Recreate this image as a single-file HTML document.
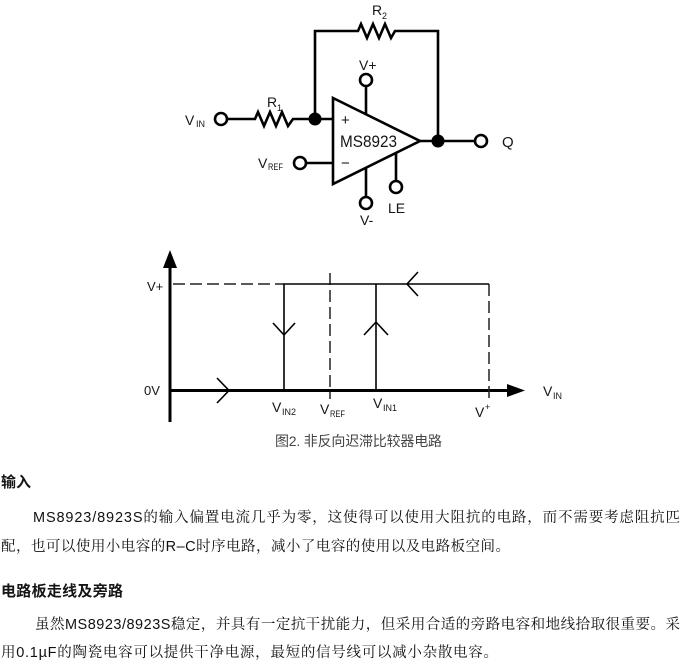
<!DOCTYPE html>
<html>
<head>
<meta charset="utf-8">
<style>
  html,body{margin:0;padding:0;background:#fff;}
  body{width:684px;height:668px;overflow:hidden;}
  svg{display:block;}
  text{font-family:"Liberation Sans","Noto Sans CJK SC",sans-serif;fill:#151515;}
  .cjk{font-family:"Liberation Sans","Noto Sans CJK SC",sans-serif;}
  .body{font-family:"Liberation Sans","Noto Serif CJK SC",serif;fill:#111;}
</style>
</head>
<body>
<svg width="684" height="668" viewBox="0 0 684 668" xmlns="http://www.w3.org/2000/svg">
  <!-- ===== Circuit ===== -->
  <g fill="none" stroke="#000" stroke-width="2.6" stroke-linejoin="miter" stroke-linecap="butt">
    <polyline points="315,119 315,31 358,31 361,24 367,38 373,24 379,38 385,24 391,38 395,31 438,31 438,141"/>
    <polyline points="227,119 255,119 258,112 264,126 270,112 276,126 282,112 288,126 293,119 333,119"/>
    <line x1="306" y1="163" x2="333" y2="163"/>
    <line x1="419" y1="141" x2="475" y2="141"/>
    <line x1="366" y1="86" x2="366" y2="115"/>
    <line x1="366" y1="167" x2="366" y2="197"/>
    <line x1="396" y1="152" x2="396" y2="181"/>
  </g>
  <polygon points="333,98 420,141 333,184" fill="#fff" stroke="#000" stroke-width="2.6" stroke-linejoin="miter"/>
  <g fill="#fff" stroke="#000" stroke-width="2.6">
    <circle cx="221" cy="119" r="6"/>
    <circle cx="300" cy="163" r="6"/>
    <circle cx="366" cy="80" r="6"/>
    <circle cx="366" cy="203" r="6"/>
    <circle cx="396" cy="187" r="6"/>
    <circle cx="481" cy="141" r="6"/>
  </g>
  <circle cx="315" cy="119" r="6.5" fill="#000"/>
  <circle cx="438" cy="141" r="6.5" fill="#000"/>

  <text x="341" y="125" font-size="15">+</text>
  <text x="341" y="168" font-size="15">−</text>
  <text x="340" y="147" font-size="17" textLength="57" lengthAdjust="spacingAndGlyphs">MS8923</text>
  <text x="359" y="70" font-size="14">V+</text>
  <text x="360" y="225" font-size="14">V-</text>
  <text x="388" y="213" font-size="14">LE</text>
  <text x="502" y="147" font-size="15">Q</text>
  <text x="185" y="125" font-size="14">V</text>
  <text x="196" y="127" font-size="9">IN</text>
  <text x="258" y="168" font-size="14">V</text>
  <text x="268" y="170" font-size="9" textLength="15" lengthAdjust="spacingAndGlyphs">REF</text>
  <text x="267" y="107" font-size="14">R</text>
  <text x="277" y="111" font-size="9">1</text>
  <text x="372" y="15" font-size="14">R</text>
  <text x="382" y="19" font-size="9">2</text>

  <!-- ===== Hysteresis chart ===== -->
  <g stroke="#000" stroke-width="3" fill="none">
    <line x1="170" y1="266" x2="170" y2="422"/>
    <line x1="168.5" y1="390.5" x2="509" y2="390.5"/>
  </g>
  <polygon points="170,250 163,268 177,268" fill="#000"/>
  <polygon points="525,390.5 507,384 507,397" fill="#000"/>

  <g stroke="#222" stroke-width="1.5" fill="none" stroke-dasharray="12 5">
    <line x1="173" y1="284" x2="284" y2="284"/>
    <line x1="330" y1="273" x2="330" y2="399"/>
    <line x1="489" y1="284" x2="489" y2="401"/>
  </g>
  <g stroke="#000" stroke-width="1.6" fill="none">
    <polyline points="284,390 284,284 489,284"/>
    <line x1="376" y1="284" x2="376" y2="390"/>
    <polyline points="273,323 284,335 295,323"/>
    <polyline points="364,335 376,322 388,335"/>
    <polyline points="418,272 407,284 418,296"/>
    <polyline points="217,378 229,390.5 217,403"/>
  </g>

  <text x="147" y="291" font-size="13">V+</text>
  <text x="144" y="395" font-size="13">0V</text>
  <text x="272" y="412" font-size="14">V</text>
  <text x="282" y="415" font-size="9">IN2</text>
  <text x="320" y="414" font-size="14">V</text>
  <text x="330" y="417" font-size="9" textLength="15" lengthAdjust="spacingAndGlyphs">REF</text>
  <text x="373" y="408" font-size="14">V</text>
  <text x="383" y="411" font-size="9">IN1</text>
  <text x="475" y="417" font-size="14">V</text>
  <text x="485" y="410" font-size="9">+</text>
  <text x="543" y="396" font-size="14">V</text>
  <text x="553" y="399" font-size="9">IN</text>

  <text x="275" y="446" font-size="14" textLength="167" style="fill:#444">图2. 非反向迟滞比较器电路</text>

  <!-- ===== Body text ===== -->
  <text class="cjk" x="1" y="487" font-size="15" font-weight="bold" textLength="30">输入</text>
  <text class="body" x="33" y="522" font-size="14.5" textLength="647">MS8923/8923S的输入偏置电流几乎为零，这使得可以使用大阻抗的电路，而不需要考虑阻抗匹</text>
  <text class="body" x="1" y="551" font-size="14.5" textLength="509">配，也可以使用小电容的R–C时序电路，减小了电容的使用以及电路板空间。</text>
  <text class="cjk" x="1" y="596" font-size="15" font-weight="bold" textLength="122">电路板走线及旁路</text>
  <text class="body" x="35" y="629" font-size="14.5" textLength="645">虽然MS8923/8923S稳定，并具有一定抗干扰能力，但采用合适的旁路电容和地线拾取很重要。采</text>
  <text class="body" x="1" y="657" font-size="14.5" textLength="497">用0.1µF的陶瓷电容可以提供干净电源，最短的信号线可以减小杂散电容。</text>
</svg>
</body>
</html>
